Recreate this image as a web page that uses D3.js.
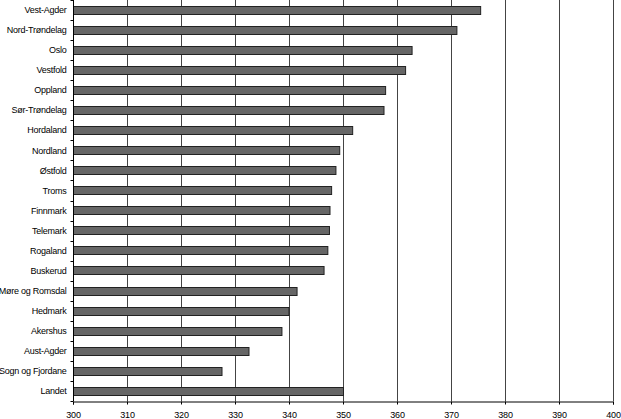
<!DOCTYPE html>
<html>
<head>
<meta charset="utf-8">
<script src="https://cdn.jsdelivr.net/npm/d3@7"></script>
<style>
  body { margin: 0; background: #fff; }
  text { font-family: "Liberation Sans", Arial, sans-serif; fill: #000; }
</style>
</head>
<body>
<div id="chart"></div>
<script>
// Data
const counties = ['Vest-Agder', 'Nord-Trøndelag', 'Oslo', 'Vestfold', 'Oppland', 'Sør-Trøndelag',
  'Hordaland', 'Nordland', 'Østfold', 'Troms', 'Finnmark', 'Telemark', 'Rogaland', 'Buskerud',
  'Møre og Romsdal', 'Hedmark', 'Akershus', 'Aust-Agder', 'Sogn og Fjordane', 'Landet'];
const values = [375.4, 371.0, 362.7, 361.5, 357.8, 357.5, 351.7, 349.3, 348.6, 347.8,
  347.5, 347.4, 347.1, 346.4, 341.4, 339.9, 338.6, 332.5, 327.5, 350.0];
const xTicks = [300, 310, 320, 330, 340, 350, 360, 370, 380, 390, 400];

// Dimensions
const width = 621;
const height = 419;
const margin = { top: 0, right: 8, bottom: 18, left: 73 };
const innerW = width - margin.left - margin.right;
const innerH = height - margin.top - margin.bottom;

const svg = d3.select('#chart')
  .append('svg')
  .attr('width', width)
  .attr('height', height);

const g = svg.append('g')
  .attr('transform', `translate(${margin.left},${margin.top})`);

// Scales
const x = d3.scaleLinear().domain([300, 400]).range([0, innerW]);
const y = d3.scaleBand().domain(counties).range([0, innerH]).paddingInner(0.58).paddingOuter(0.29);

// Gridlines
g.selectAll('line.grid')
  .data(xTicks.slice(1))
  .enter()
  .append('line')
  .attr('class', 'grid')
  .attr('x1', d => Math.round(x(d)) + 0.5)
  .attr('x2', d => Math.round(x(d)) + 0.5)
  .attr('y1', 0)
  .attr('y2', innerH)
  .attr('stroke', '#444')
  .attr('stroke-width', 1);

// Bars
g.selectAll('rect.bar')
  .data(counties)
  .enter()
  .append('rect')
  .attr('class', 'bar')
  .attr('x', 0.5)
  .attr('y', d => Math.round(y(d)) + 0.5)
  .attr('width', (d, i) => x(values[i]))
  .attr('height', Math.round(y.bandwidth()))
  .attr('fill', '#666')
  .attr('stroke', '#222')
  .attr('stroke-width', 1);

// X axis
const xAxis = g.append('g')
  .attr('transform', `translate(0,${innerH + 0.5})`)
  .call(d3.axisBottom(x).tickValues(xTicks).tickSize(3).tickPadding(7));
xAxis.selectAll('text').style('font-size', '9px').style('letter-spacing', '-0.2px');
xAxis.select('.domain').attr('stroke', '#000');

// Y axis with ticks on category boundaries
const yAxis = g.append('g').attr('transform', 'translate(0.5,0)');
yAxis.append('line')
  .attr('y1', 0)
  .attr('y2', innerH)
  .attr('stroke', '#000');
const step = innerH / counties.length;
yAxis.selectAll('line.tick')
  .data(d3.range(counties.length + 1))
  .enter()
  .append('line')
  .attr('class', 'tick')
  .attr('x1', -3)
  .attr('x2', 0)
  .attr('y1', i => Math.round(i * step) + 0.5)
  .attr('y2', i => Math.round(i * step) + 0.5)
  .attr('stroke', '#000');
yAxis.selectAll('text')
  .data(counties)
  .enter()
  .append('text')
  .attr('x', -7)
  .attr('y', d => y(d) + y.bandwidth() / 2)
  .attr('dy', '0.35em')
  .attr('text-anchor', 'end')
  .style('font-size', '9px')
  .style('letter-spacing', '-0.25px')
  .text(d => d);
</script>
</body>
</html>
